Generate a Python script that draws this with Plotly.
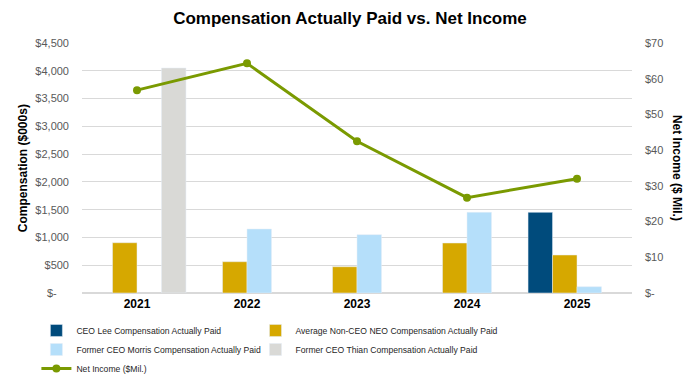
import plotly.graph_objects as go

years = ["2021", "2022", "2023", "2024", "2025"]
ceo_lee = [None, None, None, None, 1452]
avg_neo = [905, 563, 473, 900, 684]
morris = [None, 1152, 1050, 1452, 113]
thian = [4050, None, None, None, None]
net_income = [56.8, 64.3, 42.5, 26.7, 32.0]

comp_ticks = [0, 500, 1000, 1500, 2000, 2500, 3000, 3500, 4000, 4500]
comp_tick_text = ["$-\u00a0\u00a0\u00a0\u00a0", "$500", "$1,000", "$1,500", "$2,000", "$2,500",
                  "$3,000", "$3,500", "$4,000", "$4,500"]
ni_ticks = [0, 10, 20, 30, 40, 50, 60, 70]
ni_tick_text = ["$-", "$10", "$20", "$30", "$40", "$50", "$60", "$70"]

FONT = "Liberation Sans, Arial, sans-serif"
LEG_FONT = dict(size=8.6, color="#262626", family=FONT)

fig = go.Figure()
fig.add_trace(go.Bar(x=years, y=ceo_lee, name="CEO Lee Compensation Actually Paid",
                     marker_color="#004B7C", legend="legend"))
fig.add_trace(go.Bar(x=years, y=avg_neo, name="Average Non-CEO NEO Compensation Actually Paid",
                     marker_color="#D6A800", legend="legend2"))
fig.add_trace(go.Bar(x=years, y=morris, name="Former CEO Morris Compensation Actually Paid",
                     marker_color="#B5DFFA", legend="legend"))
fig.add_trace(go.Bar(x=years, y=thian, name="Former CEO Thian Compensation Actually Paid",
                     marker_color="#D9D9D6", legend="legend2"))
fig.add_trace(go.Scatter(x=years, y=net_income, name="Net Income ($Mil.)", yaxis="y2",
                         mode="lines+markers", line=dict(color="#7A9A01", width=3),
                         marker=dict(size=8, color="#7A9A01"), legend="legend"))

fig.update_layout(
    width=700, height=383,
    margin=dict(l=82, r=68, t=43, b=90, autoexpand=False),
    paper_bgcolor="white", plot_bgcolor="white",
    font=dict(family=FONT, size=11, color="#595959"),
    title=dict(text="<b>Compensation Actually Paid vs. Net Income</b>", x=0.5, xanchor="center",
               y=0.952, yanchor="middle", font=dict(size=17, color="black", family=FONT)),
    barmode="group", bargap=0.11, bargroupgap=0,
    xaxis=dict(showgrid=False, showline=False, ticks="",
               tickvals=years, ticktext=["<b>" + y + "</b>" for y in years],
               tickfont=dict(size=12, color="black", family=FONT), ticklabelstandoff=2),
    yaxis=dict(range=[0, 4500], tickvals=comp_ticks, ticktext=comp_tick_text,
               showgrid=True, gridcolor="#D9D9D9", gridwidth=1, zeroline=True,
               zerolinecolor="#D9D9D9", ticks="", ticklabelstandoff=12),
    yaxis2=dict(range=[0, 70], tickvals=ni_ticks, ticktext=ni_tick_text, overlaying="y",
                side="right", showgrid=False, zeroline=False, ticks="", ticklabelstandoff=12),
    legend=dict(orientation="v", xref="container", yref="container", x=0.052, y=0.175,
                xanchor="left", yanchor="top", font=LEG_FONT, traceorder="normal",
                tracegroupgap=0, bgcolor="rgba(0,0,0,0)"),
    legend2=dict(orientation="v", xref="container", yref="container", x=0.365, y=0.175,
                 xanchor="left", yanchor="top", font=LEG_FONT, traceorder="normal",
                 tracegroupgap=0, bgcolor="rgba(0,0,0,0)"),
    annotations=[
        dict(text="<b>Compensation ($000s)</b>", xref="paper", yref="paper",
             x=-0.107, y=0.5, xanchor="center", yanchor="middle", textangle=-90,
             showarrow=False, font=dict(size=12, color="black", family=FONT)),
        dict(text="<b>Net Income ($ Mil.)</b>", xref="paper", yref="paper",
             x=1.082, y=0.5, xanchor="center", yanchor="middle", textangle=90,
             showarrow=False, font=dict(size=12, color="black", family=FONT)),
    ],
)

fig.write_html("out.html")
